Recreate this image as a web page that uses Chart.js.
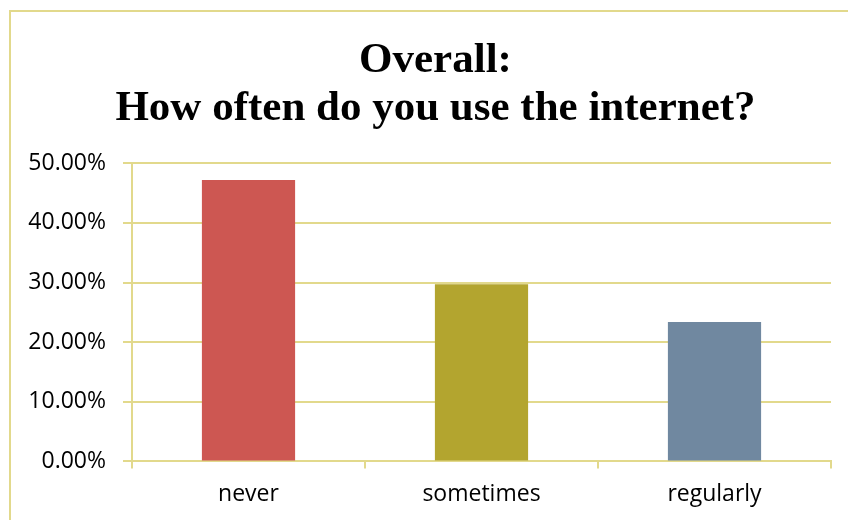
<!DOCTYPE html>
<html>
<head>
<meta charset="utf-8">
<script src="https://cdn.jsdelivr.net/npm/chart.js@4/dist/chart.umd.min.js"></script>
<style>
  html, body { margin: 0; padding: 0; background: #fff; }
  body { width: 848px; height: 520px; position: relative; overflow: hidden; }
  .marco { position: absolute; left: 9px; top: 10px; width: 900px; height: 600px;
           border-left: 2px solid #E2D98C; border-top: 2px solid #E2D98C; }
  #grafico { position: absolute; left: 0; top: 0; }
</style>
</head>
<body>
<div class="marco"></div>
<canvas id="grafico" width="848" height="520"></canvas>
<script>
const etiquetas = ['never', 'sometimes', 'regularly']
const valores = [47.2, 29.7, 23.4]
const colores = ['#CD5752', '#B3A52F', '#7088A0']
const ticksY = [0, 10, 20, 30, 40, 50]

const amarillo = '#E2D98C'
const lienzo = document.getElementById('grafico')

// el titulo va centrado un poco a la derecha, como en el original
const moverTitulo = {
  id: 'moverTitulo',
  afterLayout: (chart) => { if (chart.titleBlock) chart.titleBlock.left = 40 },
}

new Chart(lienzo, {
  type: 'bar',
  data: {
    labels: etiquetas,
    datasets: [
      {
        data: valores,
        backgroundColor: colores,
        borderWidth: 0,
        barPercentage: 0.4,
        categoryPercentage: 1,
      },
    ],
  },
  options: {
    responsive: false,
    animation: false,
    layout: { padding: { left: 0, right: 17, bottom: 0, top: 0 } },
    plugins: {
      legend: { display: false },
      tooltip: { enabled: false },
      title: {
        display: true,
        text: ['Overall:', 'How often do you use the internet?'],
        color: '#000',
        font: { family: '"Liberation Serif", "Times New Roman", serif', size: 43, weight: 'bold', lineHeight: 1.12 },
        padding: { top: 37, bottom: 30 },
      },
    },
    scales: {
      y: {
        min: 0,
        max: 50,
        afterBuildTicks: (eje) => { eje.ticks = ticksY.map((v) => ({ value: v })) },
        afterFit: (eje) => { eje.width = 132 },
        ticks: {
          color: '#000',
          padding: 17,
          font: { family: '"Open Sans", sans-serif', size: 23 },
          callback: (v) => v.toFixed(2) + '%',
        },
        grid: { color: amarillo, lineWidth: 2, tickLength: 9 },
        border: { color: amarillo, width: 2 },
      },
      x: {
        ticks: {
          color: '#000',
          padding: 12,
          font: { family: '"Open Sans", sans-serif', size: 23 },
        },
        grid: { color: amarillo, lineWidth: 2, drawOnChartArea: false, tickLength: 7 },
        border: { color: amarillo, width: 2 },
      },
    },
  },
  plugins: [moverTitulo],
})
</script>
</body>
</html>
